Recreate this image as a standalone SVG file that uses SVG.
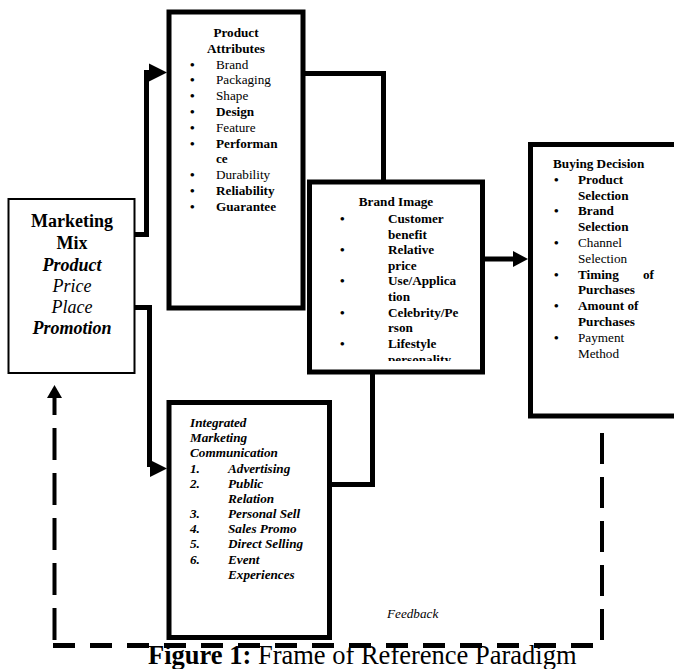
<svg xmlns="http://www.w3.org/2000/svg" width="674" height="669" viewBox="0 0 674 669">
  <style>
    text { font-family: "Liberation Serif", "Times New Roman", serif; fill: #000; }
    .box { fill: #fff; stroke: #000; stroke-width: 5; }
    .thin { fill: #fff; stroke: #000; stroke-width: 2; }
    .wire { fill: none; stroke: #000; stroke-width: 5; stroke-linejoin: miter; }
    .dash-v { fill: none; stroke: #000; stroke-width: 4; stroke-dasharray: 31 13; }
    .dash-h { fill: none; stroke: #000; stroke-width: 5; stroke-dasharray: 22 15; }
    .mm { font-size: 18px; text-anchor: middle; }
    .sm { font-size: 13.2px; }
    .b { font-weight: bold; }
    .i { font-style: italic; }
    .c { text-anchor: middle; }
    .dot { font-weight: bold; }
  </style>
  <defs>
    <clipPath id="brandClip">
      <rect x="312" y="184" width="168" height="177"/>
    </clipPath>
  </defs>

  <rect width="674" height="669" fill="#fff"/>

  <!-- connectors -->
  <g id="connectors">
    <!-- marketing mix to product attributes -->
    <polyline class="wire" points="105,234.5 146.5,234.5 146.5,72.5 150,72.5"/>
    <polygon points="149,63.5 167,72.5 149,81.5"/>
    <!-- marketing mix to integrated marketing communication -->
    <polyline class="wire" points="108,307.5 149.5,307.5 149.5,467"/>
    <polygon points="150,460 167,468.5 150,477"/>
    <!-- product attributes to brand image -->
    <polyline class="wire" points="303,73.5 383.5,73.5 383.5,182"/>
    <!-- integrated marketing communication to brand image -->
    <polyline class="wire" points="329,484.5 372.5,484.5 372.5,372"/>
    <!-- brand image to buying decision -->
    <line class="wire" x1="482" y1="259" x2="515" y2="259"/>
    <polygon points="513,251 528,259 513,267"/>
    <!-- feedback loop -->
    <path class="dash-v" d="M602,433 L602,645"/>
    <path class="dash-h" d="M53,645.5 L602,645.5"/>
    <path class="dash-v" d="M54.5,640 L54.5,398" style="stroke-dasharray: 32 13"/>
    <polygon points="47,398 54.5,385 62,398"/>
  </g>

  <!-- Marketing Mix -->
  <g id="marketing-mix">
    <rect class="thin" x="8.5" y="199" width="126" height="174"/>
    <text class="mm b" x="72" y="227">Marketing</text>
    <text class="mm b" x="72" y="249">Mix</text>
    <text class="mm b i" x="72" y="271">Product</text>
    <text class="mm i" x="72" y="292">Price</text>
    <text class="mm i" x="72" y="313">Place</text>
    <text class="mm b i" x="72" y="334">Promotion</text>
  </g>

  <!-- Product Attributes -->
  <g id="product-attributes">
    <rect class="box" x="169" y="12" width="134" height="296"/>
    <text class="sm b c" x="236" y="37">Product</text>
    <text class="sm b c" x="236" y="53">Attributes</text>
    <g class="sm">
      <text class="dot" x="190" y="68.6">•</text><text x="216" y="68.6">Brand</text>
      <text class="dot" x="190" y="84.4">•</text><text x="216" y="84.4">Packaging</text>
      <text class="dot" x="190" y="100.2">•</text><text x="216" y="100.2">Shape</text>
      <text class="dot" x="190" y="116">•</text><text class="b" x="216" y="116">Design</text>
      <text class="dot" x="190" y="131.8">•</text><text x="216" y="131.8">Feature</text>
      <text class="dot" x="190" y="147.6">•</text><text class="b" x="216" y="147.6">Performan</text>
      <text class="b" x="216" y="163.4">ce</text>
      <text class="dot" x="190" y="179.2">•</text><text x="216" y="179.2">Durability</text>
      <text class="dot" x="190" y="195">•</text><text class="b" x="216" y="195">Reliability</text>
      <text class="dot" x="190" y="210.8">•</text><text class="b" x="216" y="210.8">Guarantee</text>
    </g>
  </g>

  <!-- Brand Image -->
  <g id="brand-image">
    <rect class="box" x="309.5" y="182" width="173" height="190"/>
    <text class="sm b c" x="396" y="206">Brand Image</text>
    <g class="sm b" clip-path="url(#brandClip)">
      <text x="340" y="223">•</text><text x="388" y="223">Customer</text>
      <text x="388" y="238.5">benefit</text>
      <text x="340" y="254">•</text><text x="388" y="254">Relative</text>
      <text x="388" y="269.5">price</text>
      <text x="340" y="285">•</text><text x="388" y="285">Use/Applica</text>
      <text x="388" y="300.5">tion</text>
      <text x="340" y="316.5">•</text><text x="388" y="316.5">Celebrity/Pe</text>
      <text x="388" y="332">rson</text>
      <text x="340" y="348">•</text><text x="388" y="348">Lifestyle</text>
      <text x="388" y="364">personality</text>
    </g>
  </g>

  <!-- Buying Decision -->
  <g id="buying-decision">
    <rect class="box" x="530.5" y="144.5" width="170" height="271.5"/>
    <text class="sm b" x="553" y="168">Buying Decision</text>
    <g class="sm">
      <text class="dot" x="554" y="184">•</text><text class="b" x="578" y="184">Product</text>
      <text class="b" x="578" y="199.6">Selection</text>
      <text class="dot" x="554" y="215.4">•</text><text class="b" x="578" y="215.4">Brand</text>
      <text class="b" x="578" y="231">Selection</text>
      <text class="dot" x="554" y="247">•</text><text x="578" y="247">Channel</text>
      <text x="578" y="263">Selection</text>
      <text class="dot" x="554" y="278.6">•</text><text class="b" x="578" y="278.6">Timing</text><text class="b" x="643" y="278.6">of</text>
      <text class="b" x="578" y="294.4">Purchases</text>
      <text class="dot" x="554" y="310">•</text><text class="b" x="578" y="310">Amount of</text>
      <text class="b" x="578" y="326">Purchases</text>
      <text class="dot" x="554" y="342">•</text><text x="578" y="342">Payment</text>
      <text x="578" y="357.6">Method</text>
    </g>
  </g>

  <!-- Integrated Marketing Communication -->
  <g id="imc">
    <rect class="box" x="169" y="402.5" width="160.5" height="235"/>
    <g class="sm b i">
      <text x="190" y="427">Integrated</text>
      <text x="190" y="442">Marketing</text>
      <text x="190" y="457">Communication</text>
      <text x="190" y="472.5">1.</text><text x="228" y="472.5">Advertising</text>
      <text x="190" y="487.5">2.</text><text x="228" y="487.5">Public</text>
      <text x="228" y="502.5">Relation</text>
      <text x="190" y="518">3.</text><text x="228" y="518">Personal Sell</text>
      <text x="190" y="533">4.</text><text x="228" y="533">Sales Promo</text>
      <text x="190" y="548">5.</text><text x="228" y="548">Direct Selling</text>
      <text x="190" y="563.5">6.</text><text x="228" y="563.5">Event</text>
      <text x="228" y="578.5">Experiences</text>
    </g>
  </g>

  <!-- feedback label and caption -->
  <text class="sm i" x="387" y="618">Feedback</text>
  <text x="148" y="664" style="font-size:26.5px"><tspan font-weight="bold">Figure 1:</tspan> Frame of Reference Paradigm</text>
</svg>
